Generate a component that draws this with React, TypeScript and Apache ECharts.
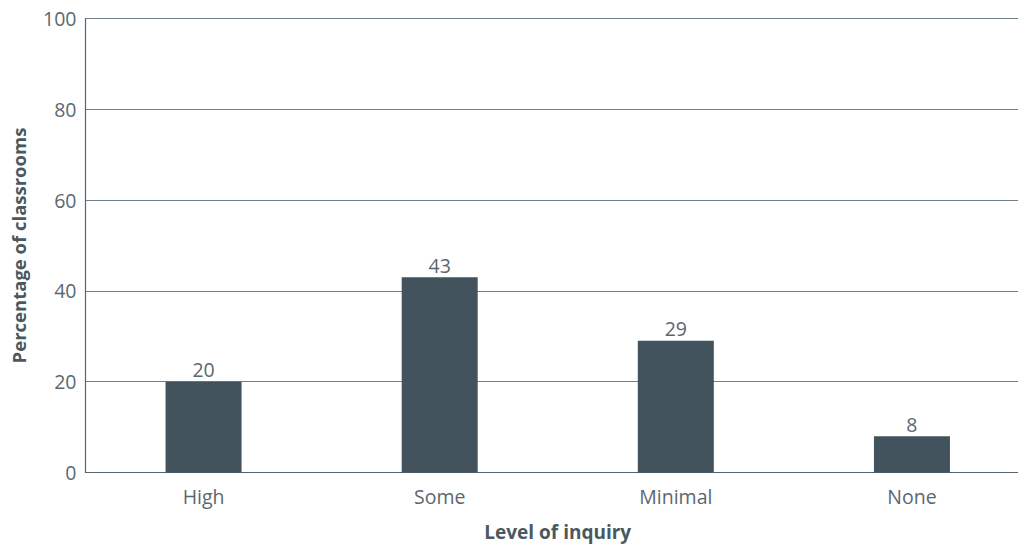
import React, { useEffect, useRef } from "react";
import * as echarts from "echarts";

const categories = ["High", "Some", "Minimal", "None"];
const values = [20, 43, 29, 8];
const yTicks = [0, 20, 40, 60, 80, 100];

export default function App() {
  const ref = useRef<HTMLDivElement>(null);
  useEffect(() => {
    if (!ref.current) return;
    const chart = echarts.init(ref.current, undefined, { renderer: "svg" });
    const textColor = "#5b6770";
    const font = "'Open Sans', 'Noto Sans', sans-serif";
    chart.setOption({
      animation: false,
      grid: {
        left: 85.5,
        right: -12,
        top: 18.5,
        bottom: 71.5,
        containLabel: false,
        outerBoundsMode: "none",
      },
      xAxis: {
        type: "category",
        data: categories,
        name: "Level of inquiry",
        nameLocation: "middle",
        nameGap: 50,
        nameTextStyle: { fontFamily: font, fontSize: 19, fontWeight: "bold", color: "#4a5860" },
        axisLine: { lineStyle: { color: "#56656e", width: 1.2 } },
        axisTick: { show: false },
        axisLabel: { fontFamily: font, fontSize: 19.5, color: textColor, margin: 14 },
      },
      yAxis: {
        type: "value",
        min: yTicks[0],
        max: yTicks[yTicks.length - 1],
        interval: 20,
        name: "Percentage of classrooms",
        nameLocation: "middle",
        nameGap: 58,
        nameTextStyle: { fontFamily: font, fontSize: 18.5, fontWeight: "bold", color: "#4a5860" },
        axisLine: { show: true, lineStyle: { color: "#56656e", width: 1.2 } },
        axisTick: { show: false },
        axisLabel: { fontFamily: font, fontSize: 19.5, color: textColor, margin: 9 },
        splitLine: { lineStyle: { color: "#6f7f88", width: 1 } },
      },
      series: [
        {
          type: "bar",
          data: values,
          barWidth: 76,
          itemStyle: { color: "#42535e" },
          label: {
            show: true,
            position: "top",
            distance: 2,
            fontFamily: font,
            fontSize: 19.5,
            color: textColor,
          },
        },
      ],
    });
    return () => chart.dispose();
  }, []);
  return (
    <div
      ref={ref}
      style={{ position: "absolute", left: 0, top: 0, width: 1018, height: 544, background: "#fff" }}
    />
  );
}
